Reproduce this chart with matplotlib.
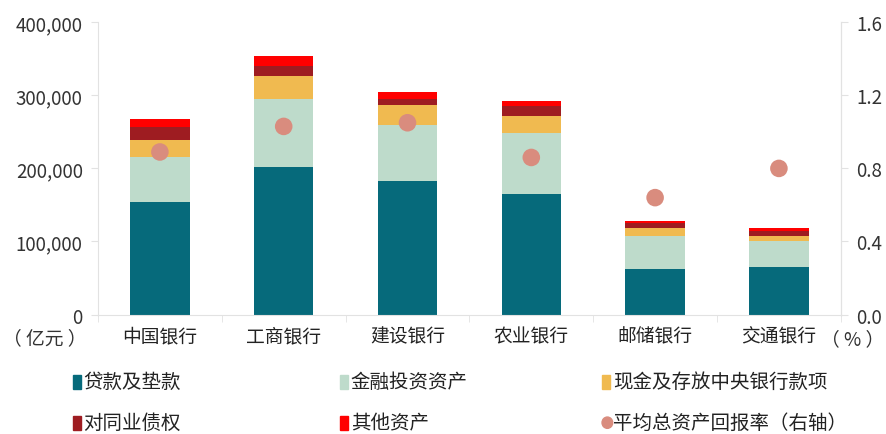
import matplotlib.pyplot as plt
from matplotlib.patches import Rectangle, Ellipse
from matplotlib.ticker import FuncFormatter
import numpy as np

plt.rcParams['font.family'] = ['Noto Sans CJK SC', 'DejaVu Sans']

banks = ['中国银行', '工商银行', '建设银行', '农业银行', '邮储银行', '交通银行']
# 亿元
loans = [153400, 201800, 182600, 164800, 62600, 64400]
invest = [62100, 93200, 76300, 83200, 44200, 35600]
cash = [23300, 31000, 27800, 23200, 11500, 7300]
interbank = [17800, 14700, 8700, 14600, 6800, 6400]
other = [11400, 12700, 8600, 6400, 2300, 4100]
roa = [0.89, 1.03, 1.05, 0.86, 0.64, 0.80]

labels = ['贷款及垫款', '金融投资资产', '现金及存放中央银行款项', '对同业债权', '其他资产', '平均总资产回报率（右轴）']
colors = ['#066a7b', '#bedbcb', '#f0ba50', '#9e1c21', '#ff0000']
dot_color = '#d98c7e'
grey = '#e2e2e2'

fig = plt.figure(figsize=(8.86, 4.35), dpi=100)
ax = fig.add_axes([0.1106, 0.2747, 0.8384, 0.6717])
x = np.arange(len(banks))
bottom = np.zeros(len(banks))
for vals, c in zip([loans, invest, cash, interbank, other], colors):
    ax.bar(x, vals, width=0.48, bottom=bottom, color=c, zorder=2)
    bottom += np.array(vals)

ax.set_xlim(-0.5, 5.5)
ax.set_ylim(0, 400000)
ax.set_yticks(range(0, 400001, 100000))
ax.yaxis.set_major_formatter(FuncFormatter(lambda v, p: f'{int(v):,}'))
ax.set_xticks(x)
ax.set_xticklabels(banks)
ax.set_xticks(np.arange(-0.5, 6, 1), minor=True)
ax.tick_params(axis='x', which='major', length=0, pad=8, labelsize=13.5, colors='#222222')
ax.tick_params(axis='x', which='minor', length=5, color=grey)
ax.tick_params(axis='y', length=5, color=grey, labelsize=13.5, labelcolor='#333333', pad=6)
ax.spines['top'].set_visible(False)
for s in ['left', 'bottom', 'right']:
    ax.spines[s].set_color(grey)

ax2 = ax.twinx()
ax2.scatter(x, roa, s=160, color=dot_color, zorder=3, edgecolors='none')
ax2.set_ylim(0, 1.6)
ax2.set_yticks(np.arange(0, 1.61, 0.4))
ax2.yaxis.set_major_formatter(FuncFormatter(lambda v, p: f'{v:.1f}'))
ax2.tick_params(axis='y', length=5, color=grey, labelsize=13.5, labelcolor='#333333', pad=6)
for s in ['top', 'left', 'bottom']:
    ax2.spines[s].set_visible(False)
ax2.spines['right'].set_color(grey)
ax.set_zorder(ax2.get_zorder() - 1)
ax.patch.set_visible(False)

fig.text(0.051, 0.222, '（ 亿元 ）', fontsize=13.5, color='#333333', ha='center', va='center')
fig.text(0.962, 0.218, '（ % ）', fontsize=13.5, color='#333333', ha='center', va='center')

# legend
cols = [0.082, 0.384, 0.680]
rows = [0.12, 0.026]
order = [(0, 0), (1, 0), (2, 0), (0, 1), (1, 1), (2, 1)]
for i, (ci, ri) in enumerate(order):
    lx, ly = cols[ci], rows[ri]
    if i < 5:
        fig.patches.append(Rectangle((lx, ly - 0.016), 0.009, 0.032, color=colors[i],
                                     transform=fig.transFigure, figure=fig))
    else:
        fig.patches.append(Ellipse((lx + 0.0055, ly), 0.012, 0.026, color=dot_color,
                                   transform=fig.transFigure, figure=fig))
    fig.text(lx + 0.012, ly, labels[i], fontsize=14, color='#222222', va='center')

fig.savefig('out.png', dpi=100)
